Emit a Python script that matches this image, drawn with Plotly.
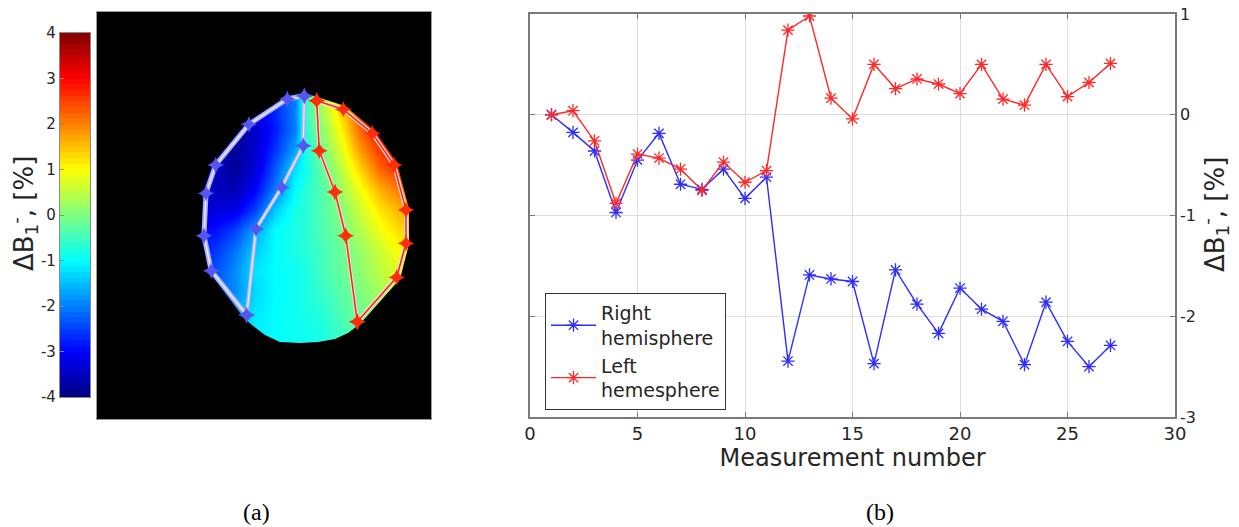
import numpy as np
import plotly.graph_objects as go

# ---------------- data: panel (b) ----------------
measurement = list(range(1, 28))
right_hemisphere = [0.0, -0.175, -0.36, -0.97, -0.45, -0.185, -0.69, -0.74, -0.54, -0.83, -0.62,
                    -2.445, -1.59, -1.63, -1.655, -2.47, -1.54, -1.88, -2.17, -1.72, -1.93, -2.05,
                    -2.48, -1.86, -2.25, -2.50, -2.29]
left_hemisphere = [0.0, 0.04, -0.26, -0.88, -0.39, -0.43, -0.54, -0.75, -0.47, -0.67, -0.555,
                   0.84, 0.98, 0.165, -0.04, 0.50, 0.26, 0.355, 0.305, 0.21, 0.50, 0.155,
                   0.095, 0.50, 0.18, 0.32, 0.51]
x_ticks = [0, 5, 10, 15, 20, 25, 30]
x_tick_labels = ['0', '5', '10', '15', '20', '25', '30']
y_ticks = [-3, -2, -1, 0, 1]
y_tick_labels = ['-3', '-2', '-1', '0', '1']

# ---------------- data: panel (a) (image pixel coordinates) ----------------
field_x = [195, 215, 235, 255, 275, 295, 305, 320, 340, 360, 380, 400, 420]
field_y = [90, 110, 130, 150, 170, 190, 210, 230, 250, 270, 290, 310, 330, 350]
field_z = [
    [-3.5, -3.6, -3.6, -3.2, -2.6, -2.0, -0.5, 0.3, 1.5, 2.5, 3.0, 3.2, 3.2],
    [-3.6, -3.7, -3.7, -3.3, -2.7, -2.0, -0.6, 0.2, 1.3, 2.4, 3.0, 3.2, 3.2],
    [-3.6, -3.8, -3.8, -3.4, -2.8, -2.0, -0.7, 0.0, 1.0, 2.2, 2.9, 3.1, 3.1],
    [-3.5, -3.6, -3.8, -3.4, -2.6, -1.7, -0.8, -0.2, 0.7, 1.8, 2.6, 2.9, 2.9],
    [-3.4, -3.5, -3.8, -3.3, -2.3, -1.2, -0.9, -0.3, 0.4, 1.3, 2.2, 2.6, 2.6],
    [-3.3, -3.5, -3.6, -3.0, -2.0, -1.0, -0.7, -0.4, 0.2, 0.9, 1.6, 2.1, 2.1],
    [-3.2, -3.3, -3.2, -2.5, -1.4, -0.8, -0.7, -0.4, 0.0, 0.6, 1.2, 1.6, 1.6],
    [-3.0, -2.9, -2.5, -1.7, -1.0, -0.8, -0.7, -0.4, -0.1, 0.4, 0.9, 1.3, 1.3],
    [-2.8, -2.6, -2.1, -1.4, -1.0, -0.8, -0.7, -0.5, -0.2, 0.2, 0.6, 1.0, 1.0],
    [-2.6, -2.4, -1.9, -1.2, -1.0, -0.9, -0.8, -0.5, -0.2, 0.1, 0.5, 0.8, 0.8],
    [-2.5, -2.3, -1.9, -1.3, -1.0, -0.9, -0.8, -0.6, -0.3, 0.0, 0.3, 0.6, 0.6],
    [-2.3, -2.1, -1.7, -1.2, -1.0, -0.9, -0.8, -0.7, -0.4, -0.1, 0.2, 0.4, 0.4],
    [-2.0, -1.8, -1.5, -1.1, -1.0, -0.9, -0.9, -0.8, -0.5, -0.2, 0.0, 0.2, 0.2],
    [-1.8, -1.6, -1.4, -1.1, -1.0, -0.9, -0.9, -0.8, -0.6, -0.3, 0.0, 0.1, 0.1],
]
brain_outline_x = [304, 317, 345, 375, 397, 409, 409, 400, 360, 348, 335, 318, 300, 280, 265, 252,
                   244, 209, 201, 203, 212, 247, 287]
brain_outline_y = [93, 97, 106, 131, 163, 209, 244, 279, 324, 333, 339, 342, 343, 342, 335, 325,
                   318, 272, 236, 193, 164, 122, 96]
blue_outer_x = [304.3, 287.3, 249, 215.7, 206, 204, 211.3, 246.7]
blue_outer_y = [96, 99, 124.3, 165, 193.3, 235.7, 270.7, 315]
blue_inner_x = [304.3, 303.3, 281.7, 256, 246.7]
blue_inner_y = [96, 145.7, 187.3, 229, 315]
red_outer_x = [316.7, 343.3, 372.3, 394, 406, 406, 396.7, 357.3]
red_outer_y = [100.7, 109.3, 133.3, 165, 210, 243.3, 277.3, 321.7]
red_inner_x = [316.7, 319.3, 335, 345.7, 357.3]
red_inner_y = [100.7, 150.7, 192, 235.7, 321.7]
colorbar_ticks = [-4, -3, -2, -1, 0, 1, 2, 3, 4]
colorbar_tick_labels = ['-4', '-3', '-2', '-1', '0', '1', '2', '3', '4']

W, H = 1239, 527
IMG_X0, IMG_X1, IMG_Y0, IMG_Y1 = 97, 431, 12, 419

jet = [[0, 'rgb(0,0,128)'], [0.125, 'rgb(0,0,255)'], [0.375, 'rgb(0,255,255)'],
       [0.625, 'rgb(255,255,0)'], [0.875, 'rgb(255,0,0)'], [1, 'rgb(128,0,0)']]

fig = go.Figure()

# ---- panel (b) line traces ----
fig.add_trace(go.Scatter(
    x=measurement, y=right_hemisphere, mode='lines+markers', name='Right<br>hemisphere',
    line=dict(color='rgb(45,45,255)', width=1.4),
    marker=dict(symbol='asterisk-open', size=11, line=dict(color='rgb(45,45,255)', width=1.3)),
    xaxis='x', yaxis='y'))
fig.add_trace(go.Scatter(
    x=measurement, y=left_hemisphere, mode='lines+markers', name='Left<br>hemesphere',
    line=dict(color='rgb(255,40,40)', width=1.4),
    marker=dict(symbol='asterisk-open', size=11, line=dict(color='rgb(255,40,40)', width=1.3)),
    xaxis='x', yaxis='y'))

# ---- panel (a) image ----
fig.add_trace(go.Heatmap(
    x=field_x, y=field_y, z=field_z, colorscale=jet, zmin=-4, zmax=4, zsmooth='best',
    showscale=False, hoverinfo='skip', xaxis='x2', yaxis='y2'))

# black mask around the brain (rectangle with a hole)
outer_x = [IMG_X0, IMG_X1, IMG_X1, IMG_X0, IMG_X0]
outer_y = [IMG_Y0, IMG_Y0, IMG_Y1, IMG_Y1, IMG_Y0]


def signed_area(xs, ys):
    xs = np.asarray(xs, float)
    ys = np.asarray(ys, float)
    return 0.5 * np.sum(xs * np.roll(ys, -1) - np.roll(xs, -1) * ys)


in_x, in_y = list(brain_outline_x), list(brain_outline_y)
if np.sign(signed_area(outer_x[:-1], outer_y[:-1])) == np.sign(signed_area(in_x, in_y)):
    in_x, in_y = in_x[::-1], in_y[::-1]
mask_x = outer_x + in_x + [in_x[0], IMG_X0]
mask_y = outer_y + in_y + [in_y[0], IMG_Y0]
fig.add_trace(go.Scatter(x=mask_x, y=mask_y, mode='lines', fill='toself', fillcolor='black',
                         line=dict(width=0, color='black'), hoverinfo='skip', showlegend=False,
                         xaxis='x2', yaxis='y2'))

for xs, ys, halo, core, mk, hw, cw in [
    (blue_outer_x, blue_outer_y, 'rgb(175,175,240)', 'rgb(240,240,255)', 'rgb(85,85,240)', 5, 1.3),
    (blue_inner_x, blue_inner_y, 'rgb(175,175,240)', 'rgb(240,240,255)', 'rgb(85,85,240)', 4, 1.2),
    (red_outer_x, red_outer_y, 'rgb(255,215,215)', 'rgb(235,40,30)', 'rgb(255,45,10)', 4, 1.5),
    (red_inner_x, red_inner_y, 'rgb(255,215,215)', 'rgb(235,40,30)', 'rgb(255,45,10)', 3.5, 1.5),
]:
    fig.add_trace(go.Scatter(x=xs, y=ys, mode='lines', line=dict(color=halo, width=hw),
                             hoverinfo='skip', showlegend=False, xaxis='x2', yaxis='y2'))
    fig.add_trace(go.Scatter(x=xs, y=ys, mode='lines+markers', line=dict(color=core, width=cw),
                             marker=dict(symbol='star-diamond', size=12, color=mk, line=dict(width=0)),
                             hoverinfo='skip', showlegend=False, xaxis='x2', yaxis='y2'))

# ---- colorbar as its own small heatmap ----
n_levels = 64
levels = [-4 + (i + 0.5) * 8 / n_levels for i in range(n_levels)]
fig.add_trace(go.Heatmap(x=[0], y=levels, z=[[v] for v in levels], colorscale=jet, zmin=-4, zmax=4,
                         showscale=False, hoverinfo='skip', xaxis='x3', yaxis='y3'))

axis_gray = '#7a7a7a'
text_col = '#262626'
font_family = 'DejaVu Sans'


def dom_x(a, b):
    return [a / W, b / W]


def dom_y(top, bottom):
    return [1 - bottom / H, 1 - top / H]


title_text = 'ΔB<sub>1</sub><sup>-</sup>, [%]'

fig.update_layout(
    width=W, height=H, margin=dict(l=0, r=0, t=0, b=0, autoexpand=False),
    paper_bgcolor='white', plot_bgcolor='white',
    font=dict(family=font_family, color=text_col),
    xaxis=dict(domain=dom_x(530, 1175), range=[0, 30], tickvals=x_ticks, ticktext=x_tick_labels,
               ticks='inside', ticklen=5,
               tickcolor=axis_gray, showline=True, linecolor=axis_gray, linewidth=1.5, mirror='ticks',
               showgrid=True, gridcolor='#dedede', gridwidth=1, zeroline=False,
               tickfont=dict(size=18, color=text_col),
               title=dict(text='Measurement number', font=dict(size=24, color=text_col), standoff=6),
               anchor='y', automargin=False),
    yaxis=dict(domain=dom_y(14, 417), range=[-3, 1], tickvals=y_ticks, ticktext=y_tick_labels,
               side='right', ticks='inside',
               ticklen=5, tickcolor=axis_gray, showline=True, linecolor=axis_gray, linewidth=1.5,
               mirror='ticks', showgrid=True, gridcolor='#dedede', gridwidth=1, zeroline=False,
               tickfont=dict(size=16, color=text_col), anchor='x', automargin=False),
    xaxis2=dict(domain=dom_x(IMG_X0, IMG_X1), range=[IMG_X0, IMG_X1], showgrid=False, zeroline=False,
                showticklabels=False, ticks='', showline=True, linecolor='#9a9a9a', linewidth=1,
                mirror=True, anchor='y2'),
    yaxis2=dict(domain=dom_y(IMG_Y0, IMG_Y1), range=[IMG_Y1, IMG_Y0], showgrid=False, zeroline=False,
                showticklabels=False, ticks='', showline=True, linecolor='#9a9a9a', linewidth=1,
                mirror=True, anchor='x2'),
    xaxis3=dict(domain=dom_x(60, 90), range=[-0.5, 0.5], showgrid=False, zeroline=False,
                showticklabels=False, ticks='', showline=True, linecolor='#8a8a8a', linewidth=1.2,
                mirror=True, anchor='y3'),
    yaxis3=dict(domain=dom_y(33, 397), range=[-4, 4], tickvals=colorbar_ticks,
                ticktext=colorbar_tick_labels, side='left',
                ticks='inside', ticklen=4, tickcolor='#8a8a8a', showgrid=False, zeroline=False,
                showline=True, linecolor='#8a8a8a', linewidth=1.2, mirror=True,
                tickfont=dict(size=15, color=text_col), anchor='x3', automargin=False),
    legend=dict(x=545 / W, y=1 - 293 / H, xanchor='left', yanchor='top', bgcolor='white',
                bordercolor='#333333', borderwidth=1, font=dict(size=19, color=text_col),
                itemwidth=45, tracegroupgap=0),
    annotations=[
        dict(text=title_text, x=24 / W, y=1 - 214 / H, xref='paper', yref='paper',
             xanchor='center', yanchor='middle',
             textangle=-90, showarrow=False, font=dict(size=26, color=text_col)),
        dict(text=title_text, x=1214 / W, y=1 - 215 / H, xref='paper', yref='paper',
             xanchor='center', yanchor='middle',
             textangle=-90, showarrow=False, font=dict(size=26, color=text_col)),
        dict(text='(a)', x=256 / W, y=1 - 512 / H, xref='paper', yref='paper', showarrow=False,
             xanchor='center', yanchor='middle',
             font=dict(size=24, family='Liberation Serif', color='black')),
        dict(text='(b)', x=880 / W, y=1 - 512 / H, xref='paper', yref='paper', showarrow=False,
             xanchor='center', yanchor='middle',
             font=dict(size=24, family='Liberation Serif', color='black')),
    ],
)

fig.write_html('out.html')
